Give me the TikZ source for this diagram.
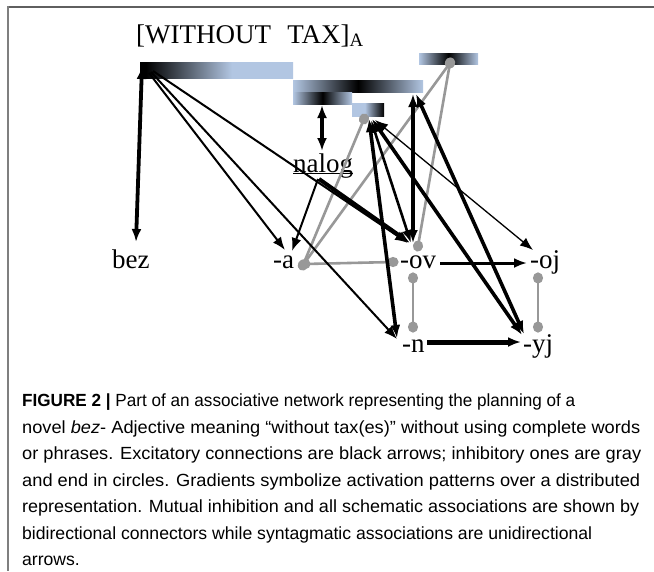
\documentclass[tikz,border=0pt]{standalone}
\usepackage{fontspec}
\setmainfont{Liberation Serif}
\setsansfont{Liberation Sans}
\usepackage{graphicx}
\usepackage{tikz}
\usetikzlibrary{
  arrows.meta,
  positioning
}
\definecolor{barblue}{RGB}{178,198,226}
\definecolor{inhibgray}{RGB}{152,152,152}
\definecolor{framegray}{RGB}{95,95,95}
\pgfdeclarehorizontalshading{withoutshade}{100bp}{color(0bp)=(black); color(27bp)=(black); color(55bp)=(barblue); color(100bp)=(barblue)}
\pgfdeclarehorizontalshading{suffixshade}{100bp}{color(0bp)=(barblue); color(45bp)=(barblue); color(75bp)=(black); color(100bp)=(black)}
\tikzset{>={Latex[length=13pt,width=10pt]}}
\newcommand{\morphfont}{\fontsize{27}{30}\selectfont}
\newcommand{\captionfont}{\sffamily\fontsize{17.6}{26.5}\selectfont}
\newcommand{\capline}[2]{\resizebox{#1}{\height}{#2}}

\begin{document}
\begin{tikzpicture}[x=1pt, y=-1pt,
    morph/.style = {font=\morphfont, inner sep=0pt, anchor=base west},
    bar/.style = {rectangle, anchor=north west, inner sep=0pt, outer sep=0pt},
    peakbar/.style = {bar, left color=barblue, right color=barblue, middle color=black},
    excite/.style = {draw=black, line width=#1},
    excite/.default = 2pt,
    inhib/.style = {draw=inhibgray, line width=2.6pt, {Circle[length=11pt,width=10pt]}-{Circle[length=11pt,width=10pt]}, shorten <=-5.5pt, shorten >=-5.5pt},
    caption/.style = {anchor=north west, inner sep=0pt, align=left, font=\captionfont}]
        \path[use as bounding box, fill=white] (0,0) rectangle (654,571);
        % frame
        \draw[framegray, line width=2pt] (7,7) -- (654,7);
        \draw[framegray!80, line width=2pt] (8,6) -- (8,571);

        % nodes
        \node[morph] (title) at (136,43) {[WITHOUT\hspace{0.6em}TAX]\textsubscript{A}};
        \node[bar, minimum width=153pt, minimum height=16pt, shading=withoutshade] (barwithout) at (140,62) {};
        \node[peakbar, minimum width=130pt, minimum height=12pt] (bartax) at (293,80) {};
        \node[peakbar, minimum width=59pt, minimum height=12pt] (barnalog) at (293,92) {};
        \node[bar, minimum width=32pt, minimum height=13pt, shading=suffixshade] (barsuffix) at (352,103) {};
        \node[peakbar, minimum width=59pt, minimum height=11pt] (barinhib) at (419,53) {};

        \node[morph] (nalog) at (293,172) {\underline{\smash{nalog}}};
        \node[morph] (bez) at (112,268) {bez};
        \node[morph] (a) at (273,268) {-a};
        \node[morph] (ov) at (400,268) {-ov};
        \node[morph] (oj) at (530,268) {-oj};
        \node[morph] (n) at (402,352) {-n};
        \node[morph] (yj) at (523,352) {-yj};

        % inhibitory connections
        \draw[inhib] ([shift={(31,10)}]barinhib.north west) to ([shift={(30,-3)}]a.base west);
        \draw[inhib] ([shift={(31,10)}]barinhib.north west) to ([shift={(18,-22)}]ov.base west);
        \draw[inhib] ([shift={(12,16)}]barsuffix.north west) to ([shift={(30,-3)}]a.base west);
        \draw[inhib] ([shift={(32,-4)}]a.base west) to ([shift={(-7,-6)}]ov.base west);
        \draw[inhib] ([shift={(13,10)}]ov.base west) to ([shift={(11,-25)}]n.base west);
        \draw[inhib] ([shift={(8,10)}]oj.base west) to ([shift={(15,-25)}]yj.base west);

        % excitatory connections
        \draw[excite=3.8pt, <->] ([shift={(2,4)}]barwithout.north west) to ([shift={(24,-26)}]bez.base west);
        \draw[excite, ->] ([shift={(9,11)}]barwithout.north west) to ([shift={(12,-18)}]a.base west);
        \draw[excite, ->] ([shift={(11,10)}]barwithout.north west) to ([shift={(-5,-13)}]n.base west);
        \draw[excite, ->] ([shift={(13,9)}]barwithout.north west) to ([shift={(8,-25)}]ov.base west);
        \draw[excite=3.2pt, <->] ([shift={(29,13)}]barnalog.north west) to ([shift={(29,-21)}]nalog.base west);
        \draw[excite, ->] ([shift={(25,7)}]nalog.base west) to ([shift={(19,-17)}]a.base west);
        \draw[excite=4pt, ->] ([shift={(26,7)}]nalog.base west) to ([shift={(10,-25)}]ov.base west);
        \draw[excite=3.6pt, <->] ([shift={(17,16)}]barsuffix.north west) to ([shift={(-5,-14)}]n.base west);
        \draw[excite=2.6pt, <->] ([shift={(19,17)}]barsuffix.north west) to ([shift={(11,-25)}]ov.base west);
        \draw[excite=3.6pt, <->] ([shift={(20,16)}]barsuffix.north west) to ([shift={(-1,-17)}]yj.base west);
        \draw[excite=1.3pt, <->] ([shift={(23,17)}]barsuffix.north west) to ([shift={(3,-18)}]oj.base west);
        \draw[excite=3.6pt, <->] ([shift={(120,14)}]bartax.north west) to ([shift={(13,-25)}]ov.base west);
        \draw[excite=3.6pt, <->] ([shift={(123,14)}]bartax.north west) to ([shift={(1,-18)}]yj.base west);
        \draw[excite=3pt, ->] ([shift={(40,-5)}]ov.base west) to ([shift={(-3,-5)}]oj.base west);
        \draw[excite=5pt, ->] ([shift={(25,-10)}]n.base west) to ([shift={(-2,-10)}]yj.base west);

        % caption
        \node[caption] (figcaption) at (22,394) {\capline{553pt}{\textbf{FIGURE 2 |} Part of an associative network representing the planning of a}\\
          \capline{618pt}{novel \textit{bez}- Adjective meaning “without tax(es)” without using complete words}\\
          \capline{619pt}{or phrases. Excitatory connections are black arrows; inhibitory ones are gray}\\
          \capline{618pt}{and end in circles. Gradients symbolize activation patterns over a distributed}\\
          \capline{617pt}{representation. Mutual inhibition and all schematic associations are shown by}\\
          \capline{570pt}{bidirectional connectors while syntagmatic associations are unidirectional}\\
          arrows.};
      \end{tikzpicture}
\end{document}
